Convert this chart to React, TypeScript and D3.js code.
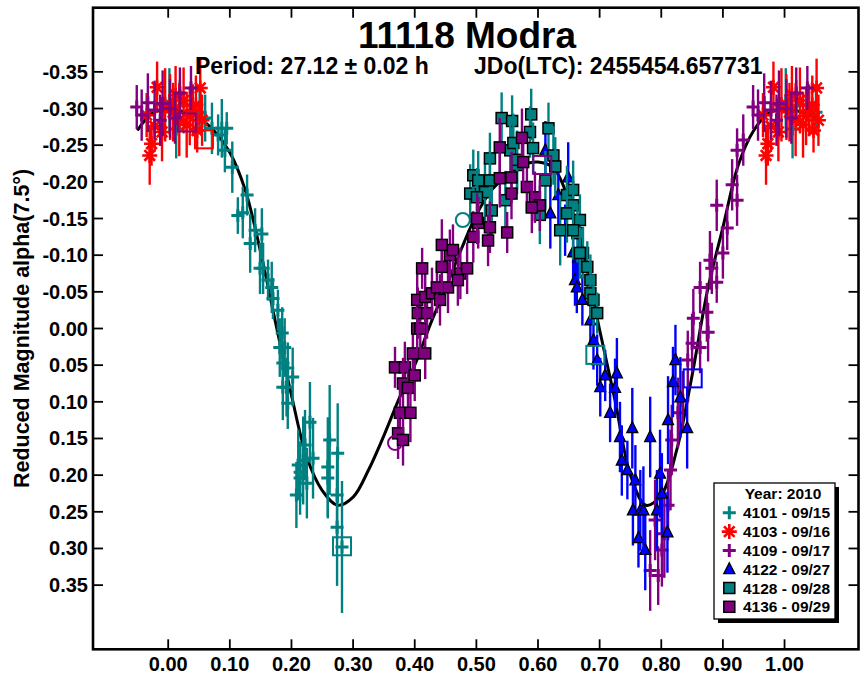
import * as d3 from "d3";
import { useEffect, useRef } from "react";

// phase ticks and magnitude ticks
const xTicks = [0, 0.1, 0.2, 0.3, 0.4, 0.5, 0.6, 0.7, 0.8, 0.9, 1.0];
const yTicks = [-0.35, -0.3, -0.25, -0.2, -0.15, -0.1, -0.05, 0, 0.05, 0.1, 0.15, 0.2, 0.25, 0.3, 0.35];

// [phase, reduced mag, error]
const s4101 = [
  [0.002, -0.31, 0.045], [0.013, -0.272, 0.04], [0.019, -0.304, 0.035], [0.051, -0.295, 0.03],
  [0.06, -0.287, 0.032], [0.071, -0.273, 0.035], [0.081, -0.264, 0.028], [0.087, -0.273, 0.04],
  [0.092, -0.243, 0.03], [0.095, -0.273, 0.022], [0.104, -0.22, 0.035], [0.113, -0.154, 0.025],
  [0.121, -0.158, 0.035], [0.128, -0.182, 0.028], [0.133, -0.116, 0.04], [0.141, -0.134, 0.03],
  [0.152, -0.129, 0.035], [0.154, -0.082, 0.035], [0.162, -0.066, 0.028], [0.168, -0.056, 0.035],
  [0.17, -0.041, 0.028], [0.178, -0.025, 0.028], [0.185, 0.006, 0.035], [0.189, 0.026, 0.04],
  [0.186, 0.047, 0.03], [0.194, 0.054, 0.035], [0.202, 0.066, 0.04], [0.192, 0.08, 0.04],
  [0.194, 0.102, 0.035], [0.211, 0.186, 0.048], [0.219, 0.18, 0.06], [0.23, 0.128, 0.055],
  [0.235, 0.177, 0.055], [0.214, 0.196, 0.04], [0.225, 0.211, 0.048], [0.222, 0.159, 0.048],
  [0.259, 0.189, 0.068], [0.262, 0.152, 0.075], [0.259, 0.204, 0.055], [0.274, 0.227, 0.06],
  [0.275, 0.17, 0.068], [0.274, 0.271, 0.08], [0.282, 0.298, 0.09],
  [0.149, -0.082, 0.035], [0.181, 0.026, 0.04], [0.186, 0.08, 0.045], [0.214, 0.204, 0.05],
  [0.208, 0.227, 0.045],
];
const s4103 = [
  [0.982, -0.329, 0.035], [0.97, -0.236, 0.04], [0.973, -0.252, 0.03], [0.99, -0.268, 0.04],
  [0.965, -0.291, 0.03], [0.978, -0.276, 0.035], [0.995, -0.305, 0.05], [0.003, -0.302, 0.045],
  [0.008, -0.295, 0.04], [0.012, -0.318, 0.04], [0.018, -0.285, 0.05], [0.025, -0.311, 0.045],
  [0.03, -0.278, 0.045], [0.035, -0.29, 0.04], [0.04, -0.298, 0.035], [0.045, -0.305, 0.04],
  [0.047, -0.27, 0.03], [0.052, -0.328, 0.04], [0.055, -0.284, 0.035],
];
const s4109 = [
  [0.949, -0.302, 0.03], [0.957, -0.291, 0.035], [0.967, -0.308, 0.04], [0.978, -0.298, 0.04],
  [0.987, -0.284, 0.035], [0.991, -0.307, 0.045], [0.003, -0.3, 0.04], [0.011, -0.287, 0.035],
  [0.019, -0.321, 0.035], [0.037, -0.328, 0.03],
  [0.79, 0.261, 0.055], [0.795, 0.337, 0.04], [0.801, 0.302, 0.05], [0.811, 0.241, 0.048],
  [0.815, 0.193, 0.055], [0.817, 0.152, 0.048], [0.827, 0.115, 0.048], [0.835, 0.098, 0.04],
  [0.843, 0.043, 0.04], [0.85, 0.02, 0.04], [0.852, -0.014, 0.04], [0.863, 0.026, 0.035],
  [0.863, -0.056, 0.035], [0.874, -0.022, 0.04], [0.876, 0.005, 0.04], [0.879, -0.093, 0.04],
  [0.882, -0.082, 0.035], [0.89, -0.063, 0.028], [0.89, -0.168, 0.035], [0.9, -0.103, 0.035],
  [0.907, -0.137, 0.03], [0.915, -0.196, 0.035], [0.923, -0.175, 0.035], [0.923, -0.243, 0.03],
  [0.933, -0.257, 0.035], [0.782, 0.33, 0.055], [0.805, 0.28, 0.06],
];
const s4122 = [
  [0.612, -0.243, 0.04], [0.62, -0.157, 0.048], [0.633, -0.182, 0.04], [0.649, -0.206, 0.048],
  [0.644, -0.134, 0.035], [0.657, -0.104, 0.035], [0.66, -0.066, 0.035], [0.665, -0.097, 0.038],
  [0.663, -0.056, 0.035], [0.672, -0.039, 0.035], [0.685, -0.011, 0.035], [0.69, 0.016, 0.04],
  [0.696, 0.043, 0.035], [0.701, 0.08, 0.04], [0.709, 0.064, 0.035], [0.725, 0.081, 0.04],
  [0.728, 0.061, 0.048], [0.717, 0.115, 0.04], [0.733, 0.148, 0.048], [0.753, 0.136, 0.055],
  [0.736, 0.18, 0.048], [0.745, 0.193, 0.04], [0.758, 0.207, 0.048], [0.754, 0.248, 0.048],
  [0.766, 0.248, 0.055], [0.763, 0.286, 0.04], [0.774, 0.302, 0.055], [0.771, 0.248, 0.06],
  [0.782, 0.148, 0.055], [0.793, 0.248, 0.055], [0.798, 0.198, 0.06], [0.81, 0.278, 0.055],
  [0.801, 0.225, 0.055], [0.811, 0.125, 0.06], [0.819, 0.073, 0.048], [0.823, 0.043, 0.048],
  [0.831, 0.094, 0.055], [0.842, 0.136, 0.055],
];
const s4128 = [
  [0.49, -0.184, 0.04], [0.495, -0.209, 0.035], [0.503, -0.202, 0.04], [0.514, -0.186, 0.04],
  [0.522, -0.232, 0.035], [0.525, -0.161, 0.04], [0.541, -0.287, 0.035], [0.558, -0.283, 0.035],
  [0.555, -0.243, 0.035], [0.56, -0.253, 0.04], [0.566, -0.223, 0.04], [0.589, -0.292, 0.035],
  [0.587, -0.268, 0.035], [0.592, -0.246, 0.035], [0.617, -0.273, 0.035], [0.625, -0.236, 0.04],
  [0.628, -0.221, 0.04], [0.612, -0.202, 0.04], [0.647, -0.182, 0.04], [0.657, -0.189, 0.04],
  [0.657, -0.168, 0.04], [0.668, -0.148, 0.035], [0.664, -0.13, 0.04], [0.673, -0.103, 0.035],
  [0.68, -0.084, 0.035], [0.685, -0.066, 0.035], [0.685, -0.048, 0.035], [0.69, -0.039, 0.035],
  [0.696, -0.021, 0.028], [0.547, -0.175, 0.04], [0.603, -0.155, 0.04], [0.636, -0.134, 0.048],
  [0.501, -0.179, 0.04], [0.522, -0.202, 0.04], [0.566, -0.23, 0.04], [0.647, -0.157, 0.04],
  [0.657, -0.134, 0.04], [0.668, -0.103, 0.035],
];
const s4136 = [
  [0.368, 0.053, 0.028], [0.384, 0.053, 0.035], [0.381, 0.075, 0.035], [0.389, 0.081, 0.04],
  [0.4, 0.064, 0.035], [0.376, 0.115, 0.04], [0.393, 0.115, 0.04], [0.373, 0.143, 0.035],
  [0.381, 0.152, 0.035], [0.397, 0.034, 0.035], [0.417, 0.034, 0.035], [0.404, 0.0, 0.04],
  [0.409, 0.0, 0.04], [0.405, -0.021, 0.035], [0.42, -0.021, 0.035], [0.404, -0.039, 0.035],
  [0.417, -0.043, 0.035], [0.428, -0.048, 0.035], [0.441, -0.039, 0.035], [0.436, -0.056, 0.035],
  [0.454, -0.056, 0.035], [0.412, -0.082, 0.028], [0.444, -0.084, 0.035], [0.457, -0.1, 0.035],
  [0.444, -0.114, 0.035], [0.462, -0.107, 0.035], [0.474, -0.075, 0.035], [0.485, -0.082, 0.035],
  [0.47, -0.066, 0.035], [0.495, -0.125, 0.035], [0.503, -0.144, 0.035], [0.522, -0.138, 0.035],
  [0.519, -0.12, 0.035], [0.55, -0.131, 0.028], [0.501, -0.15, 0.035], [0.538, -0.247, 0.04],
  [0.574, -0.26, 0.04], [0.538, -0.205, 0.04], [0.557, -0.184, 0.035], [0.557, -0.206, 0.035],
  [0.582, -0.193, 0.035], [0.595, -0.179, 0.035], [0.603, -0.168, 0.035], [0.59, -0.165, 0.035],
  [0.576, -0.227, 0.035],
];

// hollow reference marks [phase, mag]
const open4101 = [[0.282, 0.297]];
const open4103 = [[0.058, -0.258]];
const open4109 = [[0.03, -0.281]];
const open4122 = [[0.851, 0.068]];
const open4128 = [[0.693, 0.036]];
const open4136 = [[0.607, -0.223]];
const ring4128 = [[0.478, -0.148]];
const ring4136 = [[0.368, 0.156]];

// Fourier fit, one period [phase, mag]
const fitCurve = [
  [0.0, -0.298], [0.025, -0.296], [0.05, -0.287], [0.075, -0.269], [0.1, -0.24], [0.125, -0.189],
  [0.15, -0.104], [0.175, -0.005], [0.2, 0.091], [0.225, 0.176], [0.25, 0.221], [0.275, 0.241],
  [0.3, 0.23], [0.325, 0.193], [0.35, 0.146], [0.375, 0.095], [0.4, 0.05], [0.425, -0.005],
  [0.45, -0.055], [0.475, -0.107], [0.5, -0.155], [0.525, -0.189], [0.55, -0.209], [0.575, -0.223],
  [0.6, -0.227], [0.625, -0.219], [0.65, -0.175], [0.675, -0.1], [0.7, 0.002], [0.725, 0.098],
  [0.75, 0.2], [0.775, 0.241], [0.8, 0.227], [0.825, 0.166], [0.85, 0.064], [0.875, -0.052],
  [0.9, -0.138], [0.925, -0.223], [0.95, -0.27], [0.975, -0.294],
];

const FONT = "'Liberation Sans', Arial, Helvetica, sans-serif";

export default function App() {
  const ref = useRef<SVGSVGElement>(null);

  useEffect(() => {
    const svg = d3.select(ref.current);
    svg.selectAll("*").remove();

    const left = 93, right = 858.5, top = 7.7, bottom = 649.3;
    const x = d3.scaleLinear().domain([-0.122, 1.12]).range([left, right]);
    const y = d3.scaleLinear().domain([-0.4375, 0.4375]).range([top, bottom]);

    svg.append("rect").attr("width", 868).attr("height", 679).attr("fill", "#fff");

    // wrap phases so -0.055..1.055 is covered
    const wrap = (pts: number[][], lo = -0.055, hi = 1.055) => {
      const out: number[][] = [];
      pts.forEach((p) => {
        [-1, 0, 1].forEach((k) => {
          const ph = p[0] + k;
          if (ph >= lo && ph <= hi) out.push([ph, ...p.slice(1)]);
        });
      });
      return out;
    };

    // fit curve
    const curvePts = wrap(fitCurve, -0.051, 1.051).sort((a, b) => a[0] - b[0]);
    const line = d3.line<number[]>()
      .x((d) => x(d[0]))
      .y((d) => y(d[1]))
      .curve(d3.curveCatmullRom);
    svg.append("path")
      .attr("d", line(curvePts))
      .attr("fill", "none")
      .attr("stroke", "#000")
      .attr("stroke-width", 3);

    const series = [
      { name: "4101 - 09/15", pts: s4101, open: open4101, ring: [], shape: "plus", color: "#008080" },
      { name: "4103 - 09/16", pts: s4103, open: open4103, ring: [], shape: "star", color: "#ff0000" },
      { name: "4109 - 09/17", pts: s4109, open: open4109, ring: [], shape: "plus", color: "#800080" },
      { name: "4122 - 09/27", pts: s4122, open: open4122, ring: [], shape: "tri", color: "#0000ff" },
      { name: "4128 - 09/28", pts: s4128, open: open4128, ring: ring4128, shape: "square", color: "#008080" },
      { name: "4136 - 09/29", pts: s4136, open: open4136, ring: ring4136, shape: "square", color: "#800080" },
    ];

    const drawMarker = (g: any, shape: string, color: string, cx: number, cy: number) => {
      if (shape === "plus") {
        g.append("path")
          .attr("d", `M${cx - 6.5},${cy}H${cx + 6.5}M${cx},${cy - 6.5}V${cy + 6.5}`)
          .attr("stroke", color).attr("stroke-width", 3).attr("fill", "none");
      } else if (shape === "star") {
        const r = 7.5, q = r * 0.707;
        g.append("path")
          .attr("d", `M${cx - r},${cy}H${cx + r}M${cx},${cy - r}V${cy + r}` +
            `M${cx - q},${cy - q}L${cx + q},${cy + q}M${cx - q},${cy + q}L${cx + q},${cy - q}`)
          .attr("stroke", color).attr("stroke-width", 2.6).attr("fill", "none");
      } else if (shape === "tri") {
        g.append("path")
          .attr("d", `M${cx},${cy - 6.5}L${cx + 5.5},${cy + 4.5}L${cx - 5.5},${cy + 4.5}Z`)
          .attr("fill", color).attr("stroke", "#000").attr("stroke-width", 1.3);
      } else {
        g.append("rect")
          .attr("x", cx - 5.5).attr("y", cy - 5.5).attr("width", 11).attr("height", 11)
          .attr("fill", color).attr("stroke", "#000").attr("stroke-width", 1.5);
      }
    };

    const plot = svg.append("g");
    series.forEach((s) => {
      const g = plot.append("g");
      wrap(s.pts).forEach((d) => {
        const cx = x(d[0]);
        g.append("line")
          .attr("x1", cx).attr("x2", cx)
          .attr("y1", y(d[1] - d[2])).attr("y2", y(d[1] + d[2]))
          .attr("stroke", s.color).attr("stroke-width", 2.4);
        drawMarker(g, s.shape, s.color, cx, y(d[1]));
      });
      s.open.forEach((d) => {
        g.append("rect")
          .attr("x", x(d[0]) - 9).attr("y", y(d[1]) - 9).attr("width", 18).attr("height", 18)
          .attr("fill", "none").attr("stroke", s.color).attr("stroke-width", 2);
      });
      s.ring.forEach((d) => {
        g.append("circle")
          .attr("cx", x(d[0])).attr("cy", y(d[1])).attr("r", 7)
          .attr("fill", "none").attr("stroke", s.color).attr("stroke-width", 2);
      });
    });

    // frame
    svg.append("rect")
      .attr("x", left).attr("y", top).attr("width", right - left).attr("height", bottom - top)
      .attr("fill", "none").attr("stroke", "#000").attr("stroke-width", 2.6);

    const ticks = svg.append("g").attr("stroke", "#000").attr("stroke-width", 1.8);
    xTicks.forEach((t) => {
      ticks.append("line").attr("x1", x(t)).attr("x2", x(t)).attr("y1", bottom).attr("y2", bottom - 10);
      ticks.append("line").attr("x1", x(t)).attr("x2", x(t)).attr("y1", top).attr("y2", top + 10);
    });
    yTicks.forEach((t) => {
      ticks.append("line").attr("x1", left).attr("x2", left + 10).attr("y1", y(t)).attr("y2", y(t));
      ticks.append("line").attr("x1", right).attr("x2", right - 10).attr("y1", y(t)).attr("y2", y(t));
    });

    const labels = svg.append("g")
      .attr("font-family", FONT).attr("font-weight", "bold").attr("font-size", 20).attr("fill", "#000");
    xTicks.forEach((t) => {
      labels.append("text").attr("x", x(t)).attr("y", 671).attr("text-anchor", "middle").text(t.toFixed(2));
    });
    yTicks.forEach((t) => {
      labels.append("text").attr("x", 88).attr("y", y(t) + 7).attr("text-anchor", "end").text(t.toFixed(2));
    });
    labels.append("text")
      .attr("transform", `translate(28.5,${(top + bottom) / 2}) rotate(-90)`)
      .attr("text-anchor", "middle")
      .attr("font-size", 21.5)
      .text("Reduced Magnitude alpha(7.5°)");

    // titles
    const titles = svg.append("g").attr("font-family", FONT).attr("font-weight", "bold").attr("fill", "#000");
    titles.append("text").attr("x", 467).attr("y", 48).attr("text-anchor", "middle")
      .attr("font-size", 37).text("11118 Modra");
    titles.append("text").attr("x", 195).attr("y", 74).attr("font-size", 23).text("Period: 27.12 ± 0.02 h");
    titles.append("text").attr("x", 474).attr("y", 74).attr("font-size", 23).text("JDo(LTC): 2455454.657731");

    // legend
    const lg = svg.append("g");
    lg.append("rect").attr("x", 718).attr("y", 487).attr("width", 121).attr("height", 136).attr("fill", "#000");
    lg.append("rect").attr("x", 714).attr("y", 483).attr("width", 121).attr("height", 136)
      .attr("fill", "#fff").attr("stroke", "#000").attr("stroke-width", 1.3);
    lg.append("text").attr("x", 783).attr("y", 499).attr("text-anchor", "middle")
      .attr("font-family", FONT).attr("font-weight", "bold").attr("font-size", 15.5).text("Year: 2010");
    series.forEach((s, i) => {
      const by = 518.3 + i * 18.8;
      drawMarker(lg, s.shape, s.color, 729.3, by - 5.5);
      lg.append("text").attr("x", 743).attr("y", by)
        .attr("font-family", FONT).attr("font-weight", "bold").attr("font-size", 15.5).text(s.name);
    });
  }, []);

  return (
    <svg ref={ref} width={868} height={679}
      style={{ position: "absolute", left: 0, top: 0, display: "block" }} />
  );
}
